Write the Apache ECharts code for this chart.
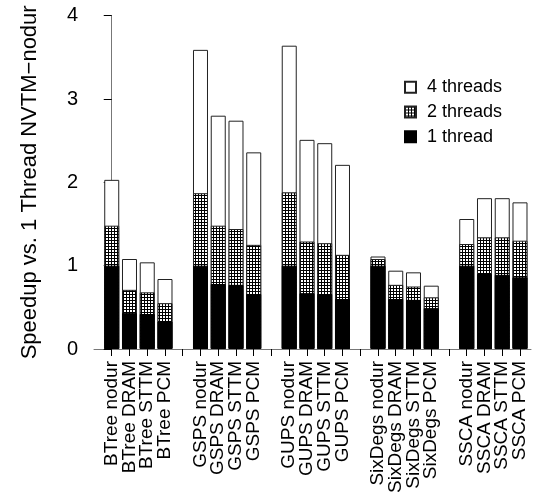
<!DOCTYPE html>
<html>
<head>
<meta charset="utf-8">
<script src="https://cdn.jsdelivr.net/npm/echarts@6/dist/echarts.min.js"></script>
<style>
  html, body { margin: 0; padding: 0; background: #fff; }
  #chart { width: 533px; height: 492px; }
</style>
</head>
<body>
<div id="chart"></div>
<script>
// Category labels (empty strings are the gaps between benchmark groups)
const categories = [
  'BTree nodur', 'BTree DRAM', 'BTree STTM', 'BTree PCM', '',
  'GSPS nodur', 'GSPS DRAM', 'GSPS STTM', 'GSPS PCM', '',
  'GUPS nodur', 'GUPS DRAM', 'GUPS STTM', 'GUPS PCM', '',
  'SixDegs nodur', 'SixDegs DRAM', 'SixDegs STTM', 'SixDegs PCM', '',
  'SSCA nodur', 'SSCA DRAM', 'SSCA STTM', 'SSCA PCM'
];
// Speedup values (null = gap)
const threads4 = [2.03, 1.08, 1.04, 0.84, null, 3.59, 2.80, 2.74, 2.36, null, 3.64, 2.51, 2.47, 2.21, null, 1.11, 0.94, 0.92, 0.76, null, 1.56, 1.81, 1.81, 1.76];
const threads2 = [1.48, 0.71, 0.68, 0.55, null, 1.87, 1.48, 1.44, 1.25, null, 1.88, 1.29, 1.27, 1.13, null, 1.08, 0.77, 0.75, 0.62, null, 1.26, 1.34, 1.34, 1.30];
const threads1 = [1.00, 0.43, 0.42, 0.33, null, 1.00, 0.78, 0.77, 0.66, null, 1.00, 0.67, 0.66, 0.60, null, 1.00, 0.60, 0.59, 0.49, null, 1.00, 0.90, 0.89, 0.86];
const yTicks = [0, 1, 2, 3, 4];
const seriesNames = ['4 threads', '2 threads', '1 thread'];

// Grid hatch pattern for "2 threads"
const pat = document.createElement('canvas');
pat.width = 3; pat.height = 3;
const pctx = pat.getContext('2d');
pctx.fillStyle = '#ffffff'; pctx.fillRect(0, 0, 3, 3);
pctx.fillStyle = '#000000'; pctx.fillRect(0, 0, 3, 1); pctx.fillRect(0, 0, 1, 3);

function toPairs(arr) {
  const out = [];
  arr.forEach((v, i) => { if (v !== null) out.push([i, v]); });
  return out;
}
const X_MIN = -1, X_MAX = 23.62;
const tickIdx = categories.map((_, i) => i);
// empty sentinel labels at the axis ends so no real label is treated as min/max
const labelIdx = [X_MIN].concat(tickIdx, [X_MAX]);
const FONT = 'Liberation Sans';

const chart = echarts.init(document.getElementById('chart'), null, { renderer: 'canvas' });
chart.setOption({
  animation: false,
  backgroundColor: '#ffffff',
  textStyle: { fontFamily: FONT, color: '#000' },
  grid: { left: 94, top: 15.7, right: 2, bottom: 143, containLabel: false, outerBoundsMode: 'none' },
  legend: {
    orient: 'vertical',
    left: 404,
    top: 78.3,
    padding: 0,
    itemWidth: 11,
    itemHeight: 11,
    itemGap: 6.7,
    data: seriesNames,
    icon: 'rect',
    textStyle: { fontFamily: FONT, fontSize: 18, color: '#000', padding: [0, 0, 0, 6] }
  },
  xAxis: {
    type: 'value',
    min: X_MIN,
    max: X_MAX,
    splitLine: { show: false },
    axisLine: { show: true, lineStyle: { color: '#777', width: 1 } },
    axisTick: { show: true, customValues: tickIdx, length: 7, lineStyle: { color: '#000', width: 1 } },
    axisLabel: {
      show: true,
      customValues: labelIdx,
      hideOverlap: false,
      rotate: 90,
      margin: 12,
      fontFamily: FONT,
      fontSize: 19,
      lineHeight: 14,
      color: '#000',
      formatter: v => (Number.isInteger(v) && categories[v]) ? categories[v] : ''
    }
  },
  yAxis: {
    type: 'value',
    min: 0,
    max: 4,
    interval: 1,
    name: 'Speedup vs. 1 Thread NVTM\u2212nodur',
    nameLocation: 'middle',
    nameGap: 53,
    nameTextStyle: { fontFamily: FONT, fontSize: 22, color: '#000' },
    splitLine: { show: false },
    axisLine: { show: true, lineStyle: { color: '#777', width: 1 } },
    axisTick: { show: true, length: 8, lineStyle: { color: '#000', width: 1 } },
    axisLabel: { fontFamily: FONT, fontSize: 20, color: '#000', margin: 16,
      formatter: v => yTicks.includes(v) ? String(v) : '' }
  },
  series: [
    {
      name: seriesNames[0], type: 'bar', data: toPairs(threads4), barWidth: 15, barGap: '-100%',
      itemStyle: { color: '#ffffff', borderColor: '#222', borderWidth: 1 }, z: 1
    },
    {
      name: seriesNames[1], type: 'bar', data: toPairs(threads2), barWidth: 15, barGap: '-100%',
      itemStyle: { color: { image: pat, repeat: 'repeat' }, borderColor: '#222', borderWidth: 1 }, z: 2
    },
    {
      name: seriesNames[2], type: 'bar', data: toPairs(threads1), barWidth: 15, barGap: '-100%',
      itemStyle: { color: '#000000', borderColor: '#000', borderWidth: 1 }, z: 3
    }
  ]
});
</script>
</body>
</html>
